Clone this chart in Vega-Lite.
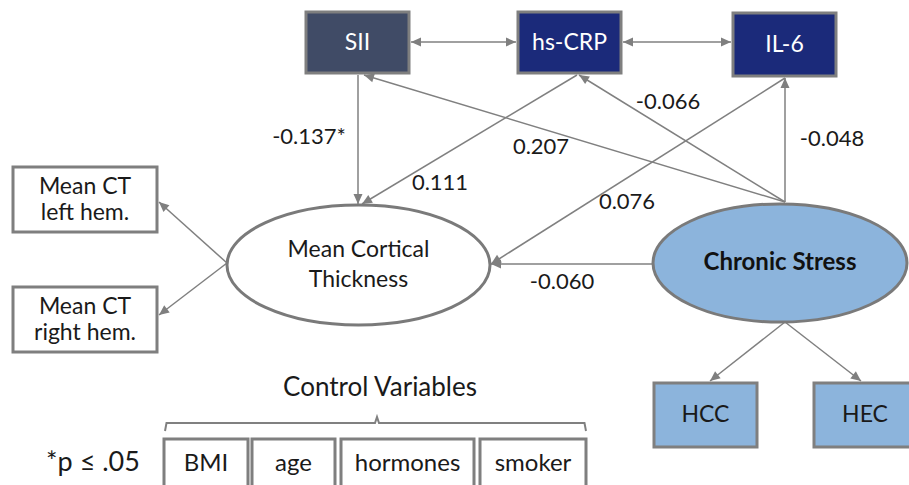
{
  "$schema": "https://vega.github.io/schema/vega-lite/v6.json",
  "width": 909,
  "height": 485,
  "autosize": {"type": "none"},
  "padding": 0,
  "background": "white",
  "config": {"view": {"stroke": null}},
  "datasets": {
    "nodes": [
      {"name": "SII", "label": "SII", "group": "sii", "x": 306, "x2": 409, "y": 12, "y2": 73},
      {"name": "hs-CRP", "label": "hs-CRP", "group": "crp", "x": 518, "x2": 621, "y": 12, "y2": 73},
      {"name": "IL-6", "label": "IL-6", "group": "crp", "x": 733, "x2": 836, "y": 13, "y2": 76},
      {"name": "Mean CT left hem.", "label": "Mean CT\nleft hem.", "group": "ct", "x": 13, "x2": 157, "y": 167, "y2": 232},
      {"name": "Mean CT right hem.", "label": "Mean CT\nright hem.", "group": "ct", "x": 13, "x2": 157, "y": 287, "y2": 352},
      {"name": "HCC", "label": "HCC", "group": "stress", "x": 654, "x2": 757, "y": 383, "y2": 447},
      {"name": "HEC", "label": "HEC", "group": "stress", "x": 814, "x2": 916, "y": 383, "y2": 447},
      {"name": "BMI", "label": "BMI", "group": "control", "x": 164, "x2": 248, "y": 439, "y2": 488},
      {"name": "age", "label": "age", "group": "control", "x": 252, "x2": 335, "y": 439, "y2": 488},
      {"name": "hormones", "label": "hormones", "group": "control", "x": 341, "x2": 474, "y": 439, "y2": 488},
      {"name": "smoker", "label": "smoker", "group": "control", "x": 480, "x2": 586, "y": 439, "y2": 488}
    ],
    "latent": [
      {"name": "Mean Cortical Thickness", "label": "Mean Cortical\nThickness", "cx": 358.5, "cy": 265},
      {"name": "Chronic Stress", "label": "Chronic Stress", "cx": 780, "cy": 263}
    ],
    "edges": [
      {"from": "SII", "to": "hs-CRP", "x1": 411, "y1": 42, "x2": 516, "y2": 42, "both": true},
      {"from": "hs-CRP", "to": "IL-6", "x1": 623, "y1": 42, "x2": 731, "y2": 42, "both": true},
      {"from": "SII", "to": "Mean Cortical Thickness", "x1": 358, "y1": 75, "x2": 358, "y2": 204, "both": false},
      {"from": "hs-CRP", "to": "Mean Cortical Thickness", "x1": 577, "y1": 75, "x2": 362, "y2": 204, "both": false},
      {"from": "IL-6", "to": "Mean Cortical Thickness", "x1": 785, "y1": 78, "x2": 491, "y2": 264, "both": false},
      {"from": "Chronic Stress", "to": "Mean Cortical Thickness", "x1": 653, "y1": 264, "x2": 491, "y2": 264, "both": false},
      {"from": "Chronic Stress", "to": "SII", "x1": 785, "y1": 202, "x2": 364, "y2": 75, "both": false},
      {"from": "Chronic Stress", "to": "hs-CRP", "x1": 785, "y1": 202, "x2": 579, "y2": 75, "both": false},
      {"from": "Chronic Stress", "to": "IL-6", "x1": 785, "y1": 202, "x2": 785, "y2": 78, "both": false},
      {"from": "Mean Cortical Thickness", "to": "Mean CT left hem.", "x1": 227, "y1": 263, "x2": 159, "y2": 202, "both": false},
      {"from": "Mean Cortical Thickness", "to": "Mean CT right hem.", "x1": 227, "y1": 263, "x2": 159, "y2": 315, "both": false},
      {"from": "Chronic Stress", "to": "HCC", "x1": 785, "y1": 322, "x2": 710, "y2": 381, "both": false},
      {"from": "Chronic Stress", "to": "HEC", "x1": 785, "y1": 322, "x2": 861, "y2": 381, "both": false}
    ],
    "coefs": [
      {"text": "-0.137*", "x": 309, "y": 137},
      {"text": "0.111", "x": 440, "y": 183},
      {"text": "0.207", "x": 541, "y": 147},
      {"text": "0.076", "x": 627, "y": 202},
      {"text": "-0.060", "x": 562, "y": 282},
      {"text": "-0.066", "x": 668, "y": 102},
      {"text": "-0.048", "x": 832, "y": 139}
    ],
    "notes": [
      {"text": "*p ≤ .05", "x": 93, "y": 463, "kind": "note"},
      {"text": "Control Variables", "x": 380, "y": 388, "kind": "title"}
    ],
    "brace": [
      {"o": 1, "bx": 165, "by": 431},
      {"o": 2, "bx": 166.5, "by": 423},
      {"o": 3, "bx": 375, "by": 423},
      {"o": 4, "bx": 377, "by": 417},
      {"o": 5, "bx": 379, "by": 423},
      {"o": 6, "bx": 584.5, "by": 423},
      {"o": 7, "bx": 586, "by": 431}
    ]
  },
  "layer": [
    {
      "data": {"name": "edges"},
      "mark": {"type": "rule", "color": "#808080", "strokeWidth": 1.5},
      "encoding": {
        "x": {"field": "x1", "type": "quantitative", "scale": {"domain": [0, 909], "nice": false, "zero": false}, "axis": null},
        "y": {"field": "y1", "type": "quantitative", "scale": {"domain": [0, 485], "nice": false, "zero": false, "reverse": true}, "axis": null},
        "x2": {"field": "x2"},
        "y2": {"field": "y2"}
      }
    },
    {
      "data": {"name": "brace"},
      "mark": {"type": "line", "color": "#808080", "strokeWidth": 2},
      "encoding": {
        "x": {"field": "bx", "type": "quantitative"},
        "y": {"field": "by", "type": "quantitative"},
        "order": {"field": "o"}
      }
    },
    {
      "data": {"name": "nodes"},
      "mark": {"type": "rect", "stroke": "#7f7f7f", "strokeWidth": 3},
      "encoding": {
        "x": {"field": "x", "type": "quantitative"},
        "x2": {"field": "x2"},
        "y": {"field": "y", "type": "quantitative"},
        "y2": {"field": "y2"},
        "fill": {"field": "group", "type": "nominal", "legend": null,
          "scale": {"domain": ["sii", "crp", "ct", "stress", "control"], "range": ["#404b66", "#1b2a7a", "#ffffff", "#8cb4dc", "#ffffff"]}}
      }
    },
    {
      "data": {"name": "latent"},
      "transform": [{"filter": "datum.name === 'Mean Cortical Thickness'"}],
      "mark": {"type": "point", "shape": "M-1,0C-1,-0.2518,-0.5523,-0.456,0,-0.456C0.5523,-0.456,1,-0.2518,1,0C1,0.2518,0.5523,0.456,0,0.456C-0.5523,0.456,-1,0.2518,-1,0Z", "size": 69169, "filled": true, "fill": "#ffffff", "stroke": "#7a7a7a", "strokeWidth": 3, "opacity": 1, "fillOpacity": 1, "strokeOpacity": 1},
      "encoding": {
        "x": {"field": "cx", "type": "quantitative"},
        "y": {"field": "cy", "type": "quantitative"}
      }
    },
    {
      "data": {"name": "latent"},
      "transform": [{"filter": "datum.name === 'Chronic Stress'"}],
      "mark": {"type": "point", "shape": "M-1,0C-1,-0.2568,-0.5523,-0.465,0,-0.465C0.5523,-0.465,1,-0.2568,1,0C1,0.2568,0.5523,0.465,0,0.465C-0.5523,0.465,-1,0.2568,-1,0Z", "size": 64516, "filled": true, "fill": "#8cb4dc", "stroke": "#7a7a7a", "strokeWidth": 3, "opacity": 1, "fillOpacity": 1, "strokeOpacity": 1},
      "encoding": {
        "x": {"field": "cx", "type": "quantitative"},
        "y": {"field": "cy", "type": "quantitative"}
      }
    },
    {
      "data": {"name": "edges"},
      "transform": [{"calculate": "atan2(datum.x2 - datum.x1, datum.y1 - datum.y2) * 180 / PI", "as": "ang"}],
      "mark": {"type": "point", "shape": "M0,0L-0.45,1L0.45,1Z", "size": 400, "filled": true, "color": "#7f7f7f", "opacity": 1},
      "encoding": {
        "x": {"field": "x2", "type": "quantitative"},
        "y": {"field": "y2", "type": "quantitative"},
        "angle": {"field": "ang", "type": "quantitative", "scale": null}
      }
    },
    {
      "data": {"name": "edges"},
      "transform": [
        {"filter": "datum.both"},
        {"calculate": "atan2(datum.x1 - datum.x2, datum.y2 - datum.y1) * 180 / PI", "as": "ang"}
      ],
      "mark": {"type": "point", "shape": "M0,0L-0.45,1L0.45,1Z", "size": 400, "filled": true, "color": "#7f7f7f", "opacity": 1},
      "encoding": {
        "x": {"field": "x1", "type": "quantitative"},
        "y": {"field": "y1", "type": "quantitative"},
        "angle": {"field": "ang", "type": "quantitative", "scale": null}
      }
    },
    {
      "data": {"name": "nodes"},
      "transform": [
        {"filter": "datum.group !== 'ct'"},
        {"calculate": "(datum.x + datum.x2) / 2", "as": "tx"},
        {"calculate": "(datum.y + datum.y2) / 2", "as": "ty"}
      ],
      "mark": {"type": "text", "font": "Lato", "align": "center", "baseline": "middle"},
      "encoding": {
        "x": {"field": "tx", "type": "quantitative"},
        "y": {"field": "ty", "type": "quantitative"},
        "text": {"field": "label", "type": "nominal"},
        "size": {"condition": {"test": "datum.group === 'control'", "value": 24}, "value": 23},
        "color": {"condition": {"test": "datum.group === 'sii' || datum.group === 'crp'", "value": "#ffffff"}, "value": "#1a1a1a"}
      }
    },
    {
      "data": {"name": "nodes"},
      "transform": [
        {"filter": "datum.group === 'ct'"},
        {"calculate": "(datum.x + datum.x2) / 2", "as": "tx"},
        {"calculate": "(datum.y + datum.y2) / 2", "as": "ty"}
      ],
      "mark": {"type": "text", "font": "Lato", "fontSize": 23, "align": "center", "baseline": "middle", "lineBreak": "\n", "lineHeight": 26, "dy": -13, "color": "#1a1a1a"},
      "encoding": {
        "x": {"field": "tx", "type": "quantitative"},
        "y": {"field": "ty", "type": "quantitative"},
        "text": {"field": "label", "type": "nominal"}
      }
    },
    {
      "data": {"name": "latent"},
      "transform": [{"filter": "datum.name === 'Mean Cortical Thickness'"}],
      "mark": {"type": "text", "font": "Lato", "fontSize": 23, "align": "center", "baseline": "middle", "lineBreak": "\n", "lineHeight": 30, "dy": -15, "color": "#1a1a1a"},
      "encoding": {
        "x": {"field": "cx", "type": "quantitative"},
        "y": {"field": "cy", "type": "quantitative"},
        "text": {"field": "label", "type": "nominal"}
      }
    },
    {
      "data": {"name": "latent"},
      "transform": [{"filter": "datum.name === 'Chronic Stress'"}],
      "mark": {"type": "text", "font": "Lato", "fontSize": 24, "fontWeight": "bold", "align": "center", "baseline": "middle", "color": "#111111"},
      "encoding": {
        "x": {"field": "cx", "type": "quantitative"},
        "y": {"field": "cy", "type": "quantitative"},
        "text": {"field": "label", "type": "nominal"}
      }
    },
    {
      "data": {"name": "coefs"},
      "mark": {"type": "text", "font": "Lato", "fontSize": 22, "align": "center", "baseline": "middle", "color": "#1a1a1a"},
      "encoding": {
        "x": {"field": "x", "type": "quantitative"},
        "y": {"field": "y", "type": "quantitative"},
        "text": {"field": "text", "type": "nominal"}
      }
    },
    {
      "data": {"name": "notes"},
      "mark": {"type": "text", "font": "Lato", "align": "center", "baseline": "middle", "color": "#1a1a1a"},
      "encoding": {
        "x": {"field": "x", "type": "quantitative"},
        "y": {"field": "y", "type": "quantitative"},
        "text": {"field": "text", "type": "nominal"},
        "size": {"condition": {"test": "datum.kind === 'note'", "value": 27}, "value": 26}
      }
    }
  ]
}
